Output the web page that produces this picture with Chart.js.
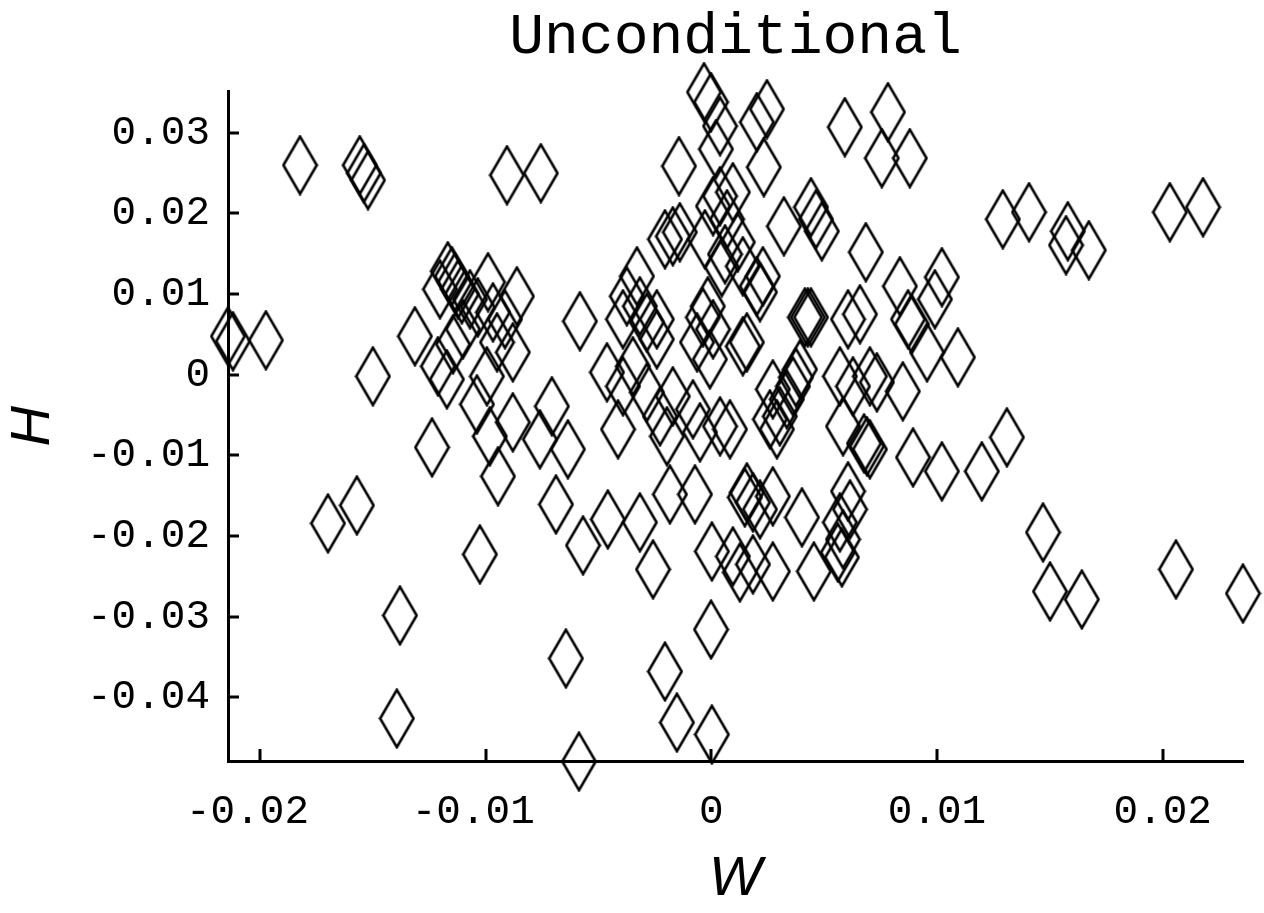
<!DOCTYPE html>
<html>
<head>
<meta charset="utf-8">
<script src="https://cdn.jsdelivr.net/npm/chart.js@4.4.0/dist/chart.umd.min.js"></script>
<style>
  html, body { margin: 0; padding: 0; background: #fff; }
  #wrap { width: 1264px; height: 913px; }
</style>
</head>
<body>
<div id="wrap"><canvas id="grafico" width="1264" height="913"></canvas></div>
<script>
// W / H pairs, one per diamond
const wValues = [
  -0.02141, -0.02119, -0.01973, -0.01822, -0.01557, -0.01539, -0.01521, -0.01499, -0.01313, -0.01237,
  -0.01570, -0.01698, -0.01379, -0.01393, -0.01025, -0.01202, -0.01167, -0.01149, -0.01136, -0.01122,
  -0.01105, -0.01069, -0.01034, -0.00989, -0.00967, -0.00914, -0.00861, -0.00949, -0.00879, -0.00994,
  -0.01211, -0.01171, -0.01144, -0.01100, -0.01038, -0.00981, -0.00945, -0.00879, -0.00759, -0.00706,
  -0.00635, -0.00688, -0.00582, -0.00568, -0.00458, -0.00316, -0.00644, -0.00586, -0.00905, -0.00755,
  -0.00329, -0.00374, -0.00316, -0.00241, -0.00391, -0.00285, -0.00241, -0.00462, -0.00347, -0.00413,
  -0.00391, -0.00285, -0.00227, -0.00170, -0.00196, -0.00081, -0.00050, 0.00039, 0.00083, -0.00063,
  0.00008, -0.00006, -0.00143, -0.00205, -0.00170, -0.00139, 0.00008, 0.00039, 0.00070, 0.00096,
  0.00140, 0.00202, 0.00229, 0.00322, -0.00032, -0.00001, 0.00039, 0.00202, 0.00247, 0.00233,
  0.00021, 0.00158, 0.00140, 0.00273, 0.00260, -0.00183, -0.00072, 0.00158, 0.00185, 0.00149,
  0.00003, 0.00096, 0.00185, 0.00273, -0.00258, 0.00127, -0.00001, -0.00205, -0.00152, 0.00003,
  -0.00028, 0.00118, 0.00061, 0.00415, 0.00428, 0.00442, 0.00606, 0.00659, 0.00872, 0.00889,
  0.00956, 0.01093, 0.00393, 0.00362, 0.00335, 0.00304, 0.00291, 0.00375, 0.00570, 0.00628,
  0.00703, 0.00734, 0.00849, 0.00584, 0.00690, 0.00677, 0.00703, 0.00894, 0.01022, 0.01199,
  0.01310, 0.00273, 0.00402, 0.00216, 0.00606, 0.00615, 0.00570, 0.00584, 0.00455, 0.00579,
  0.00561, 0.01470, 0.01501, 0.01642, 0.02059, 0.02356, 0.00592, 0.00783, 0.00756, 0.00880,
  0.00442, 0.00464, 0.00490, 0.00685, 0.00836, 0.01022, 0.00991, 0.00216, 0.01292, 0.01408,
  0.01580, 0.01572, 0.01673, 0.02032, 0.02179, -0.00015, -0.00037, 0.00047
];
const hValues = [
  0.00478, 0.00416, 0.00428, 0.02599, 0.02599, 0.02500, 0.02413, -0.00019, 0.00478, -0.00900,
  -0.01619, -0.01842, -0.02984, -0.04262, -0.02227, 0.01061, 0.01284, 0.01222, 0.01148, 0.01061,
  0.00999, 0.00937, 0.00837, 0.01148, 0.00775, 0.00689, 0.00974, 0.00403, 0.00279, -0.00019,
  0.00105, -0.00056, 0.00378, 0.00565, -0.00366, -0.00763, -0.01259, -0.00589, -0.00800, -0.00391,
  -0.00924, -0.01607, 0.00664, -0.02115, -0.01793, -0.01830, -0.03517, -0.04795, 0.02475, 0.02500,
  0.01222, 0.00974, 0.00850, 0.00689, 0.00689, 0.00651, 0.00440, 0.00031, 0.00105, -0.00676,
  -0.00143, -0.00217, -0.00515, -0.00267, -0.00763, -0.00428, -0.00713, -0.00639, -0.00676, 0.00403,
  0.00565, 0.00192, 0.02587, 0.01681, 0.01718, 0.01768, 0.02091, 0.02215, 0.01929, 0.02264,
  0.01346, 0.01098, 0.01222, 0.01842, 0.03505, 0.03381, 0.03083, 0.03133, 0.03294, 0.02574,
  0.02798, 0.00403, 0.00354, -0.00180, -0.00552, -0.01483, -0.01483, -0.01458, -0.01582, -0.01520,
  -0.02190, -0.02252, -0.02351, -0.02438, -0.02413, -0.02450, -0.03158, -0.03679, -0.04311, -0.04460,
  0.01681, 0.01644, 0.01495, 0.00713, 0.00713, 0.00713, 0.00689, 0.00751, 0.00689, 0.00627,
  0.00279, 0.00217, 0.00068, -0.00143, -0.00304, -0.00515, -0.00676, -0.00031, -0.00019, -0.00143,
  -0.00019, -0.00093, -0.00205, -0.00639, -0.00887, -0.00850, -0.00924, -0.01024, -0.01197, -0.01197,
  -0.00775, -0.01507, -0.01768, -0.01669, -0.01445, -0.01669, -0.01830, -0.02041, -0.02438, -0.02264,
  -0.02202, -0.01954, -0.02686, -0.02785, -0.02413, -0.02711, 0.03071, 0.03257, 0.02686, 0.02686,
  0.02078, 0.01929, 0.01780, 0.01520, 0.01098, 0.01210, 0.00937, 0.01024, 0.01929, 0.02016,
  0.01780, 0.01607, 0.01545, 0.02016, 0.02078, 0.00850, 0.00713, 0.01334
];

const xTicks = [-0.02, -0.01, 0, 0.01, 0.02];
const xTickLabels = ['-0.02', '-0.01', '0', '0.01', '0.02'];
const yTicks = [-0.04, -0.03, -0.02, -0.01, 0, 0.01, 0.02, 0.03];
const yTickLabels = ['-0.04', '-0.03', '-0.02', '-0.01', '0', '0.01', '0.02', '0.03'];

const puntos = wValues.map((w, i) => ({ x: w, y: hValues[i] }));

// tall open diamond used as the marker
function diamante() {
  const c = document.createElement('canvas');
  c.width = 37;
  c.height = 61;
  const g = c.getContext('2d');
  g.strokeStyle = '#000';
  g.lineWidth = 2.6;
  g.lineJoin = 'miter';
  g.beginPath();
  g.moveTo(18.5, 1.8);
  g.lineTo(35.2, 30.5);
  g.lineTo(18.5, 59.2);
  g.lineTo(1.8, 30.5);
  g.closePath();
  g.stroke();
  return c;
}

// tick marks pointing into the plot
const ticksAdentro = {
  id: 'ticksAdentro',
  afterDraw(chart) {
    const { ctx, chartArea, scales } = chart;
    ctx.save();
    ctx.strokeStyle = '#000';
    ctx.lineWidth = 3;
    ctx.beginPath();
    xTicks.forEach(v => {
      const px = Math.round(scales.x.getPixelForValue(v));
      ctx.moveTo(px, chartArea.bottom);
      ctx.lineTo(px, chartArea.bottom - 12);
    });
    yTicks.forEach(v => {
      const py = Math.round(scales.y.getPixelForValue(v));
      ctx.moveTo(chartArea.left, py);
      ctx.lineTo(chartArea.left + 11, py);
    });
    ctx.stroke();
    ctx.restore();
  }
};

const fuenteMono = { family: "'Liberation Mono', 'Courier New', monospace", size: 41 };
const fuenteEje = { family: "'Liberation Sans', Arial, sans-serif", size: 56, style: 'italic' };

const grafico = document.getElementById('grafico').getContext('2d');
new Chart(grafico, {
  type: 'scatter',
  data: {
    datasets: [{
      data: puntos,
      pointStyle: diamante(),
      pointRadius: 16,
      clip: false
    }]
  },
  plugins: [ticksAdentro],
  options: {
    responsive: false,
    animation: false,
    devicePixelRatio: 1,
    layout: { padding: { left: 0, right: 21, top: 0, bottom: 0 } },
    plugins: {
      legend: { display: false },
      tooltip: { enabled: false },
      title: {
        display: true,
        text: 'Unconditional',
        fullSize: false,
        color: '#000',
        font: { family: "'Liberation Mono', 'Courier New', monospace", size: 58, weight: 'normal' },
        padding: { top: 3, bottom: 19 }
      }
    },
    scales: {
      x: {
        type: 'linear',
        min: -0.02141,
        max: 0.02356,
        afterBuildTicks: s => { s.ticks = xTicks.map(v => ({ value: v })); },
        afterFit: s => { s.height = 152; },
        ticks: {
          // the number sits on the tick, the minus sign hangs to the left
          callback: (v, i) => (xTicks[i] < 0 ? xTickLabels[i] + ' ' : xTickLabels[i]),
          color: '#000',
          font: fuenteMono,
          padding: 27,
          maxRotation: 0,
          autoSkip: false
        },
        grid: { display: true, drawOnChartArea: false, drawTicks: false },
        border: { display: true, color: '#000', width: 3 },
        title: { display: true, text: 'W', color: '#000', font: fuenteEje, padding: { top: 0, bottom: 0 } }
      },
      y: {
        type: 'linear',
        min: -0.04789,
        max: 0.03511,
        afterBuildTicks: s => { s.ticks = yTicks.map(v => ({ value: v })); },
        afterFit: s => { s.width = 228; },
        ticks: {
          callback: (v, i) => yTickLabels[i],
          color: '#000',
          font: fuenteMono,
          padding: 18,
          autoSkip: false
        },
        grid: { display: true, drawOnChartArea: false, drawTicks: false },
        border: { display: true, color: '#000', width: 3 },
        title: { display: true, text: 'H', color: '#000', font: fuenteEje, padding: { top: 0, bottom: 0 } }
      }
    }
  }
});
</script>
</body>
</html>
